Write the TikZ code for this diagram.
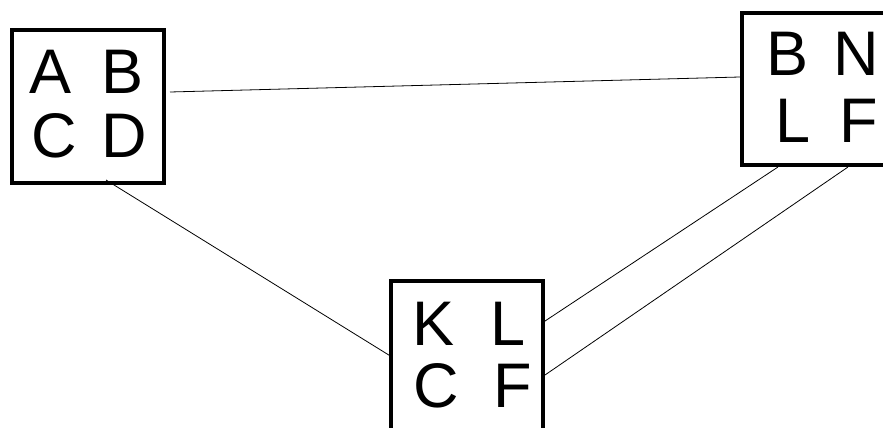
\documentclass[tikz,border=0pt]{standalone}
\usepackage{fontspec}
\setmainfont{Liberation Sans}
\begin{document}
\begin{tikzpicture}[x=1pt,y=-1pt]
			\tikzstyle{every node}+=[inner sep=0pt]
			\tikzstyle{cell}=[draw=black,line width=4pt,minimum width=152pt,minimum height=152pt]
			\tikzstyle{letter}=[anchor=base,font=\fontsize{63}{63}\selectfont]
			\tikzstyle{link}=[draw=black,line width=0.8pt]
			\useasboundingbox (0,0) rectangle (883,428);
			\node [cell,minimum height=153pt] (abcd) at (88,106.5) {};
			\node [letter] (abcdA) at (50.5,93) {A};
			\node [letter] (abcdB) at (122.5,93) {B};
			\node [letter] (abcdC) at (54,157) {C};
			\node [letter] (abcdD) at (124,157) {D};
			\node [cell] (bnlf) at (818,89) {};
			\node [letter] (bnlfB) at (787.5,75) {B};
			\node [letter] (bnlfN) at (856,75) {N};
			\node [letter] (bnlfL) at (793,142) {L};
			\node [letter] (bnlfF) at (859,142) {F};
			\node [cell] (klcf) at (467,357) {};
			\node [letter] (klcfK) at (433.5,345) {K};
			\node [letter] (klcfL) at (508,345) {L};
			\node [letter] (klcfC) at (436,407) {C};
			\node [letter] (klcfF) at (512.5,407) {F};
			\draw [link] ([xshift=4pt,yshift=14.5pt]abcd.east) -- ([yshift=12pt]bnlf.west);
			\draw [link] ([xshift=18pt,yshift=5pt]abcd.south) -- ([xshift=3pt]klcf.west);
			\draw [link] ([xshift=-40pt]bnlf.south) -- ([xshift=-3pt,yshift=34pt]klcf.east);
			\draw [link] ([xshift=30pt]bnlf.south) -- ([yshift=-18pt]klcf.east);
		\end{tikzpicture}
\end{document}
